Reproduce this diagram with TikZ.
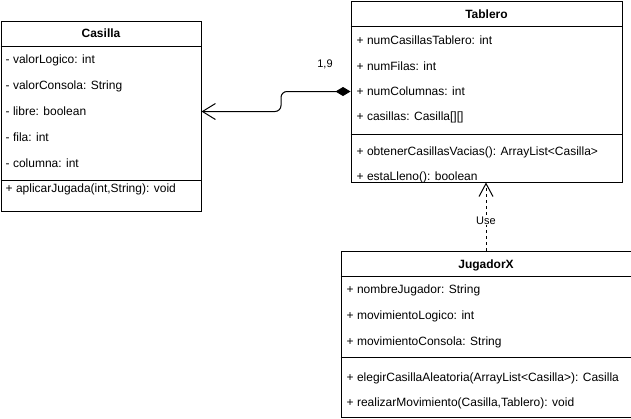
\documentclass[tikz,border=0pt]{standalone}
\usepackage{fontspec}
\setmainfont{Liberation Sans}
\usetikzlibrary{arrows.meta,calc}
\begin{document}
\begin{tikzpicture}[x=1pt,y=-1pt,
  font=\fontsize{12}{14}\selectfont,
  classbox/.style={draw,line width=1pt,rectangle,anchor=north west,inner sep=0pt},
  member/.style={anchor=west,inner sep=0pt,text height=8.6pt,text depth=0pt},
  title/.style={inner sep=0pt,text height=8.6pt,text depth=0pt,font=\fontsize{12}{14}\selectfont\bfseries},
  sepline/.style={line width=1pt},
  small/.style={inner sep=1pt,font=\fontsize{11}{13}\selectfont},
  assoc/.style={line width=1pt,rounded corners=6pt,
    {Straight Barb[length=13pt,width=16pt]}-{Diamond[length=15pt,width=9pt]}},
  dep/.style={line width=1pt,dash pattern=on 3pt off 3pt,
    -{Straight Barb[length=13pt,width=14pt]}},
]
\useasboundingbox (0,0) rectangle (631,418);

% Casilla
\node[classbox,minimum width=200pt,minimum height=190pt] (cas) at (0.5,20.5) {};
\node[title] (casT) at ($(cas.north)+(0,13)$) {Casilla};
\draw[sepline] (cas.west |- 0,46.5) -- (cas.east |- 0,46.5);
\node[member] (casA1) at (5.5,59.5) {- valorLogico: int};
\node[member] (casA2) at (5.5,85.5) {- valorConsola: String};
\node[member] (casA3) at (5.5,111.5) {- libre: boolean};
\node[member] (casA4) at (5.5,137.5) {- fila: int};
\node[member] (casA5) at (5.5,163.5) {- columna: int};
\draw[sepline] (cas.west |- 0,180.5) -- (cas.east |- 0,180.5);
\node[member] (casM1) at (5.5,188.5) {+ aplicarJugada(int,String): void};

% Tablero
\node[classbox,minimum width=271pt,minimum height=181pt] (tab) at (350.5,0.5) {};
\node[title] (tabT) at ($(tab.north)+(0,13.5)$) {Tablero};
\draw[sepline] (tab.west |- 0,26.5) -- (tab.east |- 0,26.5);
\node[member] (tabA1) at (356.5,40.5) {+ numCasillasTablero: int};
\node[member] (tabA2) at (356.5,66) {+ numFilas: int};
\node[member] (tabA3) at (356.5,91.5) {+ numColumnas: int};
\node[member] (tabA4) at (356.5,116.5) {+ casillas: Casilla[][]};
\draw[sepline] (tab.west |- 0,134.5) -- (tab.east |- 0,134.5);
\node[member] (tabM1) at (356.5,151) {+ obtenerCasillasVacias(): ArrayList<Casilla>};
\node[member] (tabM2) at (356.5,176.5) {+ estaLleno(): boolean};

% JugadorX
\node[classbox,minimum width=290pt,minimum height=166pt] (jug) at (340.5,250.5) {};
\node[title] (jugT) at ($(jug.north)+(0,13.5)$) {JugadorX};
\draw[sepline] (jug.west |- 0,276.5) -- (jug.east |- 0,276.5);
\node[member] (jugA1) at (346.5,289.5) {+ nombreJugador: String};
\node[member] (jugA2) at (346.5,315.5) {+ movimientoLogico: int};
\node[member] (jugA3) at (346.5,341.5) {+ movimientoConsola: String};
\draw[sepline] (jug.west |- 0,357.5) -- (jug.east |- 0,357.5);
\node[member] (jugM1) at (346.5,377) {+ elegirCasillaAleatoria(ArrayList<Casilla>): Casilla};
\node[member] (jugM2) at (346.5,402.5) {+ realizarMovimiento(Casilla,Tablero): void};

% composition Tablero -> Casilla
\coordinate (bend) at (281,0);
\draw[assoc] (cas.east |- casA3.west) -- (bend |- casA3.west) -- (bend |- tabA3.west) -- (tab.west |- tabA3.west);
\node[small] (mult) at (325,64) {1,9};

% dependency JugadorX -> Tablero
\draw[dep] (jug.north) -- (tab.south -| jug.north) node[small,pos=0.44,fill=white] (use) {Use};
\end{tikzpicture}
\end{document}
